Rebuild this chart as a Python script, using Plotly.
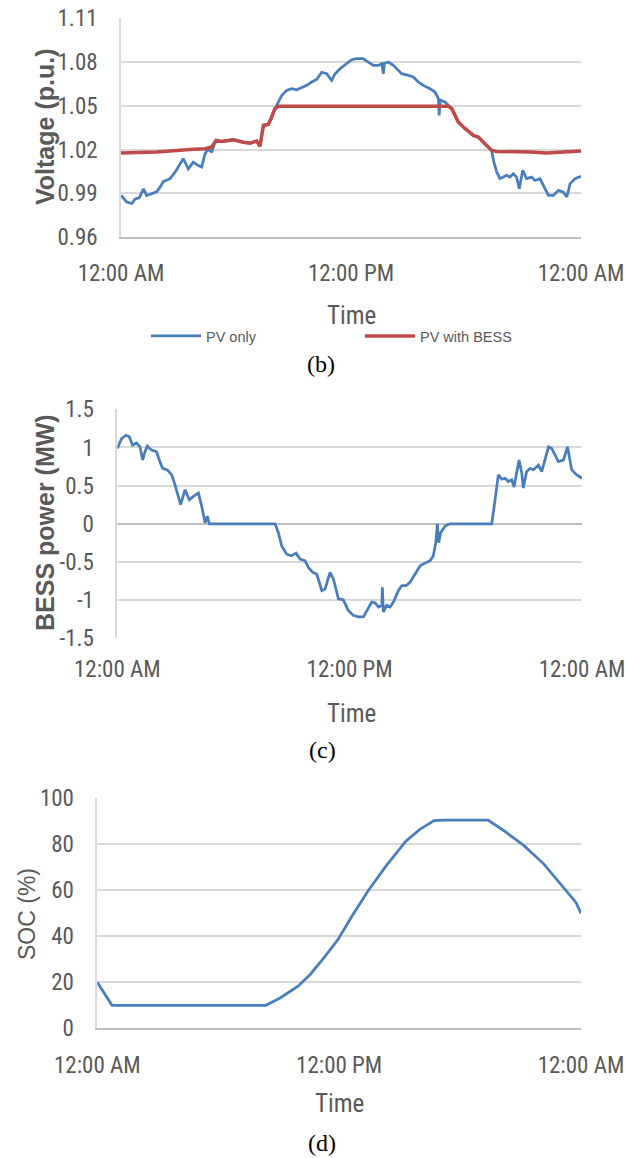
import plotly.graph_objects as go

# ---------------- data (hours after midnight) ----------------
time_tick_vals = [0, 12, 24]
time_tick_text = ["12:00 AM", "12:00 PM", "12:00 AM"]

# (b) voltage
pv_only_hours = [0, 0.3, 0.56, 0.73, 0.96, 1.17, 1.34, 1.6, 1.86, 2.03, 2.21, 2.56, 2.82, 3.08, 3.25,
                 3.51, 3.77, 4.03, 4.21, 4.38, 4.56, 4.73, 4.9, 5.25, 5.86, 6.38, 6.73, 7.08, 7.25,
                 7.43, 7.69, 7.86, 8.03, 8.21, 8.38, 8.64, 8.9, 9.17, 9.51, 9.69, 9.95, 10.21, 10.47,
                 10.73, 10.99, 11.17, 11.43, 11.77, 12.03, 12.3, 12.64, 12.9, 13.17, 13.43, 13.6,
                 13.69, 13.74, 13.95, 14.21, 14.47, 14.64, 14.99, 15.25, 15.51, 15.77, 16.12, 16.38,
                 16.56, 16.6, 16.65, 16.9, 17.08, 17.26, 17.43, 17.6, 17.86, 18.12, 18.38, 18.64,
                 18.82, 19.08, 19.34, 19.43, 19.6, 19.77, 19.95, 20.12, 20.3, 20.47, 20.64, 20.78,
                 20.96, 21.16, 21.42, 21.6, 21.86, 22.03, 22.3, 22.56, 22.82, 23.08, 23.26, 23.43,
                 23.69, 24]
pv_only_volt = [0.9885, 0.984, 0.983, 0.986, 0.987, 0.993, 0.9885, 0.990, 0.991, 0.994, 0.998, 1.000,
                1.0045, 1.010, 1.0137, 1.0068, 1.0114, 1.009, 1.008, 1.017, 1.0205, 1.018, 1.025,
                1.0256, 1.0267, 1.025, 1.0244, 1.0258, 1.0222, 1.0366, 1.0372, 1.0423, 1.048, 1.0525,
                1.057, 1.0606, 1.0617, 1.061, 1.063, 1.064, 1.0663, 1.068, 1.073, 1.072, 1.0674,
                1.072, 1.0754, 1.0789, 1.0816, 1.0823, 1.0823, 1.080, 1.0777, 1.0777, 1.0789, 1.072,
                1.079, 1.080, 1.0777, 1.0743, 1.072, 1.0709, 1.0697, 1.0663, 1.064, 1.0617, 1.0594,
                1.0549, 1.0434, 1.054, 1.0526, 1.0503, 1.048, 1.0434, 1.0388, 1.0354, 1.0327, 1.0297,
                1.0286, 1.0263, 1.0228, 1.0194, 1.0126, 1.0046, 1.000, 1.0011, 1.0023, 1.0011, 1.0034,
                1.0011, 0.9931, 1.0057, 1.000, 1.0011, 0.9988, 1.000, 0.9954, 0.9885, 0.9885, 0.992,
                0.9908, 0.9874, 0.9966, 1.000, 1.0016]

pv_bess_hours = [0, 1.86, 3.6, 4.38, 4.73, 4.96, 5.25, 5.86, 6.38, 6.73, 7.08, 7.25, 7.43, 7.69, 7.86,
                 8.03, 8.21, 12.0, 17.08, 17.26, 17.43, 17.6, 17.86, 18.12, 18.38, 18.64, 18.82,
                 19.08, 19.34, 19.6, 20.47, 21.33, 22.2, 23.08, 24]
pv_bess_volt = [1.0176, 1.0183, 1.020, 1.0206, 1.0217, 1.0263, 1.0256, 1.0267, 1.025, 1.0244, 1.0258,
                1.0222, 1.0366, 1.0372, 1.0423, 1.048, 1.0496, 1.0498, 1.0496, 1.048, 1.0434, 1.0388,
                1.0354, 1.0327, 1.0297, 1.0286, 1.0263, 1.0228, 1.0194, 1.0187, 1.0187, 1.0183,
                1.0176, 1.0183, 1.019]
volt_ticks = [0.96, 0.99, 1.02, 1.05, 1.08, 1.11]

# (c) BESS power
bess_hours = [0, 0.22, 0.45, 0.62, 0.79, 0.99, 1.17, 1.31, 1.43, 1.55, 1.77, 2.03, 2.2, 2.34, 2.58,
              2.81, 2.98, 3.1, 3.27, 3.5, 3.72, 3.93, 4.19, 4.36, 4.53, 4.65, 4.75, 8.15, 8.32,
              8.49, 8.75, 9.0, 9.23, 9.44, 9.7, 9.87, 10.09, 10.3, 10.56, 10.73, 10.99, 11.16,
              11.42, 11.67, 11.93, 12.19, 12.45, 12.71, 12.92, 13.14, 13.31, 13.49, 13.66, 13.69,
              13.74, 13.91, 14.09, 14.26, 14.52, 14.69, 14.91, 15.12, 15.38, 15.64, 15.89, 16.15,
              16.32, 16.45, 16.53, 16.6, 16.7, 16.93, 17.18, 19.34, 19.51, 19.68, 19.86, 20.03,
              20.2, 20.37, 20.49, 20.63, 20.75, 20.89, 20.97, 21.14, 21.32, 21.49, 21.75, 21.92,
              22.1, 22.27, 22.44, 22.61, 22.78, 23.04, 23.25, 23.47, 23.73, 24]
bess_power = [0.987, 1.117, 1.16, 1.139, 1.03, 1.06, 1.009, 0.835, 0.944, 1.017, 0.965, 0.944, 0.814,
              0.727, 0.706, 0.641, 0.511, 0.403, 0.251, 0.446, 0.316, 0.359, 0.403, 0.229, 0.013,
              0.1, 0, 0, -0.117, -0.29, -0.398, -0.42, -0.385, -0.463, -0.485, -0.571, -0.636,
              -0.658, -0.874, -0.853, -0.636, -0.723, -0.983, -0.996, -1.134, -1.2, -1.22, -1.22,
              -1.134, -1.026, -1.035, -1.091, -1.069, -0.831, -1.156, -1.069, -1.091, -1.026,
              -0.874, -0.81, -0.81, -0.766, -0.658, -0.55, -0.515, -0.485, -0.42, -0.247, 0,
              -0.247, -0.117, -0.03, 0, 0, 0.316, 0.641, 0.584, 0.597, 0.554, 0.576, 0.481, 0.662,
              0.835, 0.662, 0.468, 0.684, 0.727, 0.706, 0.771, 0.684, 0.857, 1.009, 0.987, 0.9,
              0.814, 0.835, 1.009, 0.706, 0.641, 0.597]
power_ticks = [-1.5, -1, -0.5, 0, 0.5, 1, 1.5]
power_tick_text = ["-1.5", "-1", "-0.5", "0", "0.5", "1", "1.5"]

# (d) SOC
soc_hours = [0, 0.73, 8.37, 9.07, 9.96, 10.56, 11.25, 11.95, 12.64, 13.43, 14.33, 15.32, 16.02,
             16.71, 17.2, 19.39, 20.18, 21.17, 22.16, 23.16, 23.75, 24]
soc_values = [20, 10, 10, 13.2, 18.3, 23.4, 30.7, 38.7, 48.8, 59.7, 70.6, 81.5, 86.6, 90.3, 90.5,
              90.5, 85.9, 79.4, 71.4, 61.2, 54.7, 50]
soc_ticks = [0, 20, 40, 60, 80, 100]

# ---------------- styling ----------------
W, H = 626, 1158
BLUE = "#4a7ebb"
RED = "#be4b48"
GRID = "#d9d9d9"
AXIS = "#bfbfbf"
TXT = "#595959"
NARROW = "Roboto Condensed, Liberation Sans, sans-serif"
SANS = "Liberation Sans, Arial, sans-serif"
SERIF = "Liberation Serif, Times New Roman, serif"


def fx(p):
    return p / W


def fy(p):
    return 1 - p / H


fig = go.Figure()
fig.add_trace(go.Scatter(x=pv_only_hours, y=pv_only_volt, mode="lines", name="PV only",
                         line=dict(color=BLUE, width=2.75), xaxis="x", yaxis="y"))
fig.add_trace(go.Scatter(x=pv_bess_hours, y=pv_bess_volt, mode="lines", name="PV with BESS",
                         line=dict(color=RED, width=3.5), xaxis="x", yaxis="y"))
fig.add_trace(go.Scatter(x=bess_hours, y=bess_power, mode="lines", showlegend=False,
                         line=dict(color=BLUE, width=2.75), xaxis="x2", yaxis="y2"))
fig.add_trace(go.Scatter(x=soc_hours, y=soc_values, mode="lines", showlegend=False,
                         line=dict(color=BLUE, width=2.75), xaxis="x3", yaxis="y3"))


def xaxis_cfg(left, right, anchor, line=True):
    return dict(domain=[fx(left), fx(right)], range=[0, 24], anchor=anchor, automargin=False,
                tickvals=time_tick_vals, ticktext=time_tick_text, showgrid=False,
                zeroline=False, showline=line, linecolor=AXIS, linewidth=1.5, ticks="",
                ticklabelstandoff=15, tickfont=dict(family=NARROW, size=23, color=TXT),
                fixedrange=True)


def yaxis_cfg(top, bottom, anchor, rng, tv, tt):
    return dict(domain=[fy(bottom), fy(top)], range=rng, anchor=anchor, tickvals=tv, ticktext=tt,
                automargin=False, showgrid=True, gridcolor=GRID, gridwidth=1.5, zeroline=False,
                showline=True, linecolor=GRID, linewidth=1.5, ticks="", ticklabelstandoff=17,
                tickfont=dict(family=NARROW, size=23, color=TXT), fixedrange=True)


fig.update_layout(
    width=W, height=H, margin=dict(l=0, r=0, t=0, b=0), autosize=False,
    paper_bgcolor="white", plot_bgcolor="white",
    xaxis=xaxis_cfg(121, 581, "y"),
    yaxis=yaxis_cfg(18.3, 237, "x", [0.96, 1.11], volt_ticks, [f"{v:.2f}" for v in volt_ticks]),
    xaxis2=xaxis_cfg(117.3, 582, "y2", line=False),
    yaxis2=yaxis_cfg(409.3, 638.3, "x2", [-1.5, 1.5], power_ticks, power_tick_text),
    xaxis3=xaxis_cfg(97.3, 581, "y3"),
    yaxis3=yaxis_cfg(798.3, 1028.3, "x3", [0, 100], soc_ticks, [str(v) for v in soc_ticks]),
    showlegend=True,
    legend=dict(orientation="h", x=fx(146), y=fy(320), xanchor="left", yanchor="top",
                font=dict(family=SANS, size=14.5, color=TXT), itemwidth=50,
                bgcolor="rgba(0,0,0,0)", entrywidth=149, tracegroupgap=0),
)
fig.layout.yaxis2.zeroline = True
fig.layout.yaxis2.zerolinecolor = AXIS
fig.layout.yaxis2.zerolinewidth = 1.5

annotations = [
    dict(text="Voltage (p.u.)", x=fx(45), y=fy(127), textangle=-90,
         font=dict(family=SANS, size=25, color=TXT, weight="bold")),
    dict(text="BESS power (MW)", x=fx(45), y=fy(523), textangle=-90,
         font=dict(family=SANS, size=25, color=TXT, weight="bold")),
    dict(text="SOC (%)", x=fx(27), y=fy(914), textangle=-90,
         font=dict(family=SANS, size=23, color=TXT)),
    dict(text="Time", x=fx(351), y=fy(315), font=dict(family=NARROW, size=25, color=TXT)),
    dict(text="Time", x=fx(351), y=fy(713), font=dict(family=NARROW, size=25, color=TXT)),
    dict(text="Time", x=fx(340), y=fy(1103), font=dict(family=NARROW, size=25, color=TXT)),
    dict(text="(b)", x=fx(321), y=fy(364), font=dict(family=SERIF, size=24, color="black")),
    dict(text="(c)", x=fx(322), y=fy(750), font=dict(family=SERIF, size=24, color="black")),
    dict(text="(d)", x=fx(322), y=fy(1143), font=dict(family=SERIF, size=24, color="black")),
]
for a in annotations:
    a.update(xref="paper", yref="paper", showarrow=False, xanchor="center", yanchor="middle")
fig.update_layout(annotations=annotations)

fig.write_html("out.html")
